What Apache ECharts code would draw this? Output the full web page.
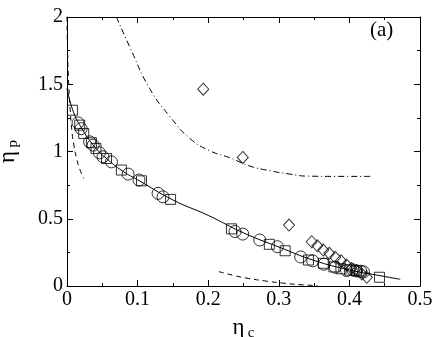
<!DOCTYPE html>
<html>
<head>
<meta charset="utf-8">
<script src="https://cdn.jsdelivr.net/npm/echarts@6/dist/echarts.min.js"></script>
<style>
html,body{margin:0;padding:0;background:#fff;}
#chart{width:436px;height:337px;}
</style>
</head>
<body>
<div id="chart"></div>
<script>
// 数据 (eta_c, eta_p)
var squarePts = [[0.0077,1.307],[0.018,1.196],[0.0237,1.134],[0.0346,1.065],[0.041,1.023],[0.056,0.948],
  [0.077,0.862],[0.1055,0.782],[0.1467,0.644],[0.233,0.425],[0.2866,0.31],[0.309,0.262],[0.342,0.193],
  [0.363,0.169],[0.378,0.142],[0.388,0.128],[0.40,0.118],[0.41,0.112],[0.4426,0.065]];
var circlePts = [[0.0156,1.213],[0.020,1.17],[0.032,1.072],[0.037,1.047],[0.046,0.99],[0.051,0.961],
  [0.063,0.923],[0.0866,0.832],[0.102,0.788],[0.129,0.689],[0.136,0.663],[0.238,0.405],[0.249,0.386],
  [0.273,0.342],[0.298,0.292],[0.331,0.216],[0.348,0.187],[0.364,0.162],[0.38,0.14],[0.396,0.115],
  [0.405,0.12],[0.41,0.112],[0.416,0.11],[0.42,0.105]];
var diamondPts = [[0.193,1.463],[0.249,0.956],[0.3145,0.453],[0.3467,0.329],[0.3546,0.299],[0.363,0.267],
  [0.3716,0.243],[0.38,0.213],[0.388,0.188],[0.396,0.156],[0.403,0.131],[0.4105,0.114],[0.4176,0.089],[0.4247,0.065]];
var solidLine = [[0,1.47],[0.008,1.31],[0.02,1.18],[0.04,1.03],[0.06,0.93],[0.08,0.85],[0.1,0.79],
  [0.15,0.64],[0.2,0.525],[0.25,0.395],[0.3,0.29],[0.35,0.19],[0.4,0.12],[0.44,0.08],[0.472,0.05]];
var dashLeft = [[0,2],[0.001,1.7],[0.002,1.55],[0.004,1.35],[0.007,1.15],[0.01,1.04],[0.014,0.94],
  [0.018,0.87],[0.0235,0.8]];
var dashBottom = [[0.215,0.107],[0.235,0.08],[0.255,0.058],[0.28,0.038],[0.305,0.022],[0.33,0.01],[0.355,0.003]];
var dashDot = [[0.07,2],[0.091,1.753],[0.117,1.469],[0.146,1.258],[0.174,1.097],[0.2025,1.005],[0.231,0.953],
  [0.259,0.892],[0.2876,0.857],[0.316,0.832],[0.34,0.817],[0.38,0.815],[0.43,0.815]];

var chart = echarts.init(document.getElementById('chart'));
var font = '"Liberation Serif", "DejaVu Serif", serif';

function axisBase(pos, showLabel){
  return {
    type:'value', position:pos, min:0,
    axisLine:{show:true, onZero:false, lineStyle:{color:'#000', width:1}},
    axisTick:{show:true, inside:true, length:6, lineStyle:{color:'#000'}},
    minorTick:{show:true, splitNumber:2, length:3, lineStyle:{color:'#000'}},
    splitLine:{show:false},
    axisLabel:{show:showLabel, color:'#000', fontFamily:font, fontSize:20, margin:4}
  };
}

var xBottom = axisBase('bottom', true);
xBottom.max = 0.5; xBottom.interval = 0.1;
xBottom.name = '{e|η} {s|c}';
xBottom.nameLocation = 'middle';
xBottom.nameGap = 28;
xBottom.nameTextStyle = {rich:{
  e:{fontFamily:font, fontSize:23, color:'#000'},
  s:{fontFamily:font, fontSize:15, color:'#000', padding:[12,0,0,0]}
}};
var xTop = axisBase('top', false);
xTop.max = 0.5; xTop.interval = 0.1;

var yLeft = axisBase('left', true);
yLeft.max = 2; yLeft.interval = 0.5;
yLeft.name = '{e|η} {s|p}';
yLeft.nameLocation = 'middle';
yLeft.nameGap = 46;
yLeft.nameRotate = 90;
yLeft.nameTextStyle = {rich:{
  e:{fontFamily:font, fontSize:23, color:'#000'},
  s:{fontFamily:font, fontSize:15, color:'#000', padding:[12,0,0,0]}
}};
var yRight = axisBase('right', false);
yRight.max = 2; yRight.interval = 0.5;

function markerSeries(data, symbol, size){
  return {
    type:'scatter', data:data, symbol:symbol, symbolSize:size, xAxisIndex:0, yAxisIndex:0,
    itemStyle:{color:'rgba(0,0,0,0)', borderColor:'#000', borderWidth:1},
    z:5, silent:true
  };
}
function lineSeries(data, type){
  return {
    type:'line', data:data, showSymbol:false, smooth:true, xAxisIndex:0, yAxisIndex:0,
    lineStyle:{color:'#000', width:1, type:type}, z:3, silent:true
  };
}

option = {
  animation:false,
  backgroundColor:'#fff',
  grid:{left:67, right:16, top:17, bottom:51, containLabel:false, outerBoundsMode:'none'},
  xAxis:[xBottom, xTop],
  yAxis:[yLeft, yRight],
  graphic:[{
    type:'text', left:370, top:20,
    style:{text:'(a)', font:'21px "Liberation Serif"', fill:'#000'}
  }],
  series:[
    lineSeries(solidLine, 'solid'),
    lineSeries(dashLeft, [5,4]),
    lineSeries(dashBottom, [5,4]),
    lineSeries(dashDot, [6,3,1,3]),
    markerSeries(squarePts, 'rect', 10),
    markerSeries(circlePts, 'circle', 12),
    markerSeries(diamondPts, 'diamond', [11,12])
  ]
};
chart.setOption(option);
</script>
</body>
</html>
